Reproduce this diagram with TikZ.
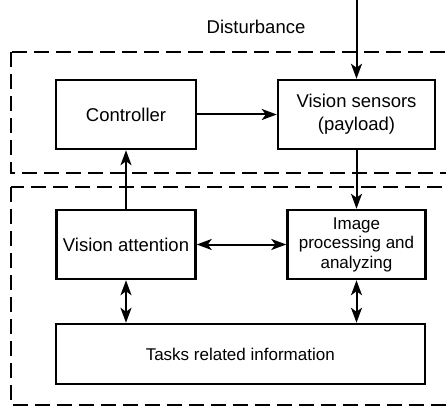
\documentclass[tikz,border=0pt]{standalone}
\usepackage{fontspec}
\setmainfont{Liberation Sans}
\usetikzlibrary{arrows.meta,positioning,calc}

\begin{document}
\begin{tikzpicture}[x=1pt,y=1pt,node distance=130pt and 230.5pt,on grid,
    block/.style={draw,line width=2.5pt,minimum height=69pt,align=center,
      font=\fontsize{18.5}{23}\selectfont},
    smalltext/.style={font=\fontsize{17}{19.5}\selectfont},
    frame/.style={line width=2pt,dash pattern=on 15pt off 7pt},
    tip/.tip={Stealth[length=15pt,width=11pt,inset=4pt]},
    arr/.style={line width=2pt,-tip},
    biarr/.style={line width=2pt,tip-tip}]
  \useasboundingbox (0,0) rectangle (446,407);
  \clip (0,0) rectangle (446,407);
  % outer dashed frames
  \draw[frame] (10.5,354.5) rectangle (470,234);
  \draw[frame] (10.5,220) rectangle (470,2);
  % blocks
  \node[block,minimum width=140pt] (ctrl) at (126,292.5) {Controller};
  \node[block,minimum width=157pt] (sens) [right=of ctrl] {Vision sensors\\(payload)};
  \node[block,minimum width=139pt] (att) [below=of ctrl] {Vision attention};
  \node[block,smalltext,minimum width=138pt] (proc) [below=of sens] {Image\\processing and\\analyzing};
  \coordinate (mid) at ($(att)!0.5!(proc)$);
  \node[block,smalltext,minimum width=369pt,minimum height=60pt] (tasks) at ($(mid)+(-1,-109.5)$) {Tasks related information};
  \node[font=\fontsize{18.5}{23}\selectfont] (dlabel) at (256,380) {Disturbance};
  \coordinate (dist) at (sens.north |- 0,407);
  % connectors
  \draw[arr] (dist) -- (sens);
  \draw[arr] (ctrl) -- (sens);
  \draw[arr] (sens.south) -- (sens.south |- proc.north);
  \draw[arr] (att) -- (ctrl);
  \draw[biarr] (att) -- (proc);
  \draw[biarr] (att) -- (att |- tasks.north);
  \draw[biarr] (proc) -- (proc |- tasks.north);
\end{tikzpicture}
\end{document}
